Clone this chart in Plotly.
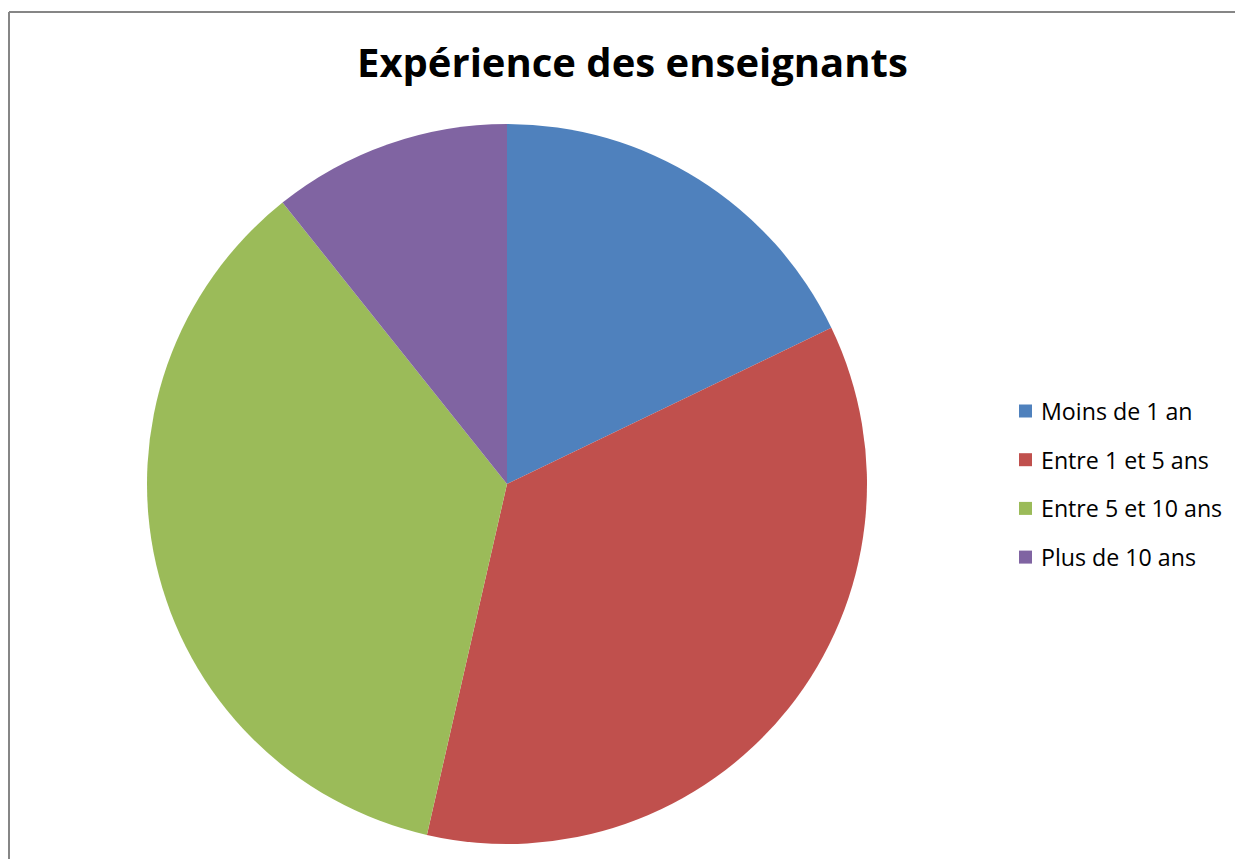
import plotly.graph_objects as go

labels = ["Moins de 1 an", "Entre 1 et 5 ans", "Entre 5 et 10 ans", "Plus de 10 ans"]
values = [5, 10, 10, 3]
colors = ["#4F81BD", "#C0504D", "#9BBB59", "#8064A2"]
title_text = "Expérience des enseignants"

# page body has an 8px margin; keep the figure inside the 1243x867 window
OFF = 8
W, H = 1243 - 2 * OFF, 867 - 2 * OFF
FONT = "Open Sans"

def px(x):
    return (x - OFF) / W

def py(y):
    return 1 - (y - OFF) / H

fig = go.Figure()
fig.add_trace(go.Pie(
    labels=labels,
    values=values,
    marker=dict(colors=colors, line=dict(width=0)),
    sort=False,
    direction="clockwise",
    rotation=0,
    textinfo="none",
    hoverinfo="label+value+percent",
    showlegend=False,
    domain=dict(x=[px(147), px(867)], y=[py(844), py(124)]),
))

border = dict(color="#868686", width=2)
shapes = [
    dict(type="line", xref="paper", yref="paper",
         x0=px(9), y0=py(12), x1=1.0, y1=py(12), line=border, layer="below"),
    dict(type="line", xref="paper", yref="paper",
         x0=px(9), y0=py(12), x1=px(9), y1=0.0, line=border, layer="below"),
]
annotations = [
    dict(text="<b>" + title_text + "</b>", xref="paper", yref="paper",
         x=px(632), y=py(61), xanchor="center", yanchor="middle",
         showarrow=False, font=dict(family=FONT, size=40, color="#000000")),
]

legend_y0, legend_gap = 411, 48.7
sq = 13
for i, (lab, col) in enumerate(zip(labels, colors)):
    yc = legend_y0 + i * legend_gap
    shapes.append(dict(type="rect", xref="paper", yref="paper",
                       x0=px(1019), x1=px(1019 + sq), y0=py(yc + sq / 2), y1=py(yc - sq / 2),
                       line=dict(width=0), fillcolor=col))
    annotations.append(dict(text=lab, xref="paper", yref="paper",
                            x=px(1039), y=py(yc), xanchor="left", yanchor="middle",
                            showarrow=False, font=dict(family=FONT, size=23.2, color="#000000")))

fig.update_layout(
    width=W, height=H,
    margin=dict(l=0, r=0, t=0, b=0),
    paper_bgcolor="#FFFFFF",
    plot_bgcolor="#FFFFFF",
    shapes=shapes,
    annotations=annotations,
    showlegend=False,
)

fig.write_html("out.html")
